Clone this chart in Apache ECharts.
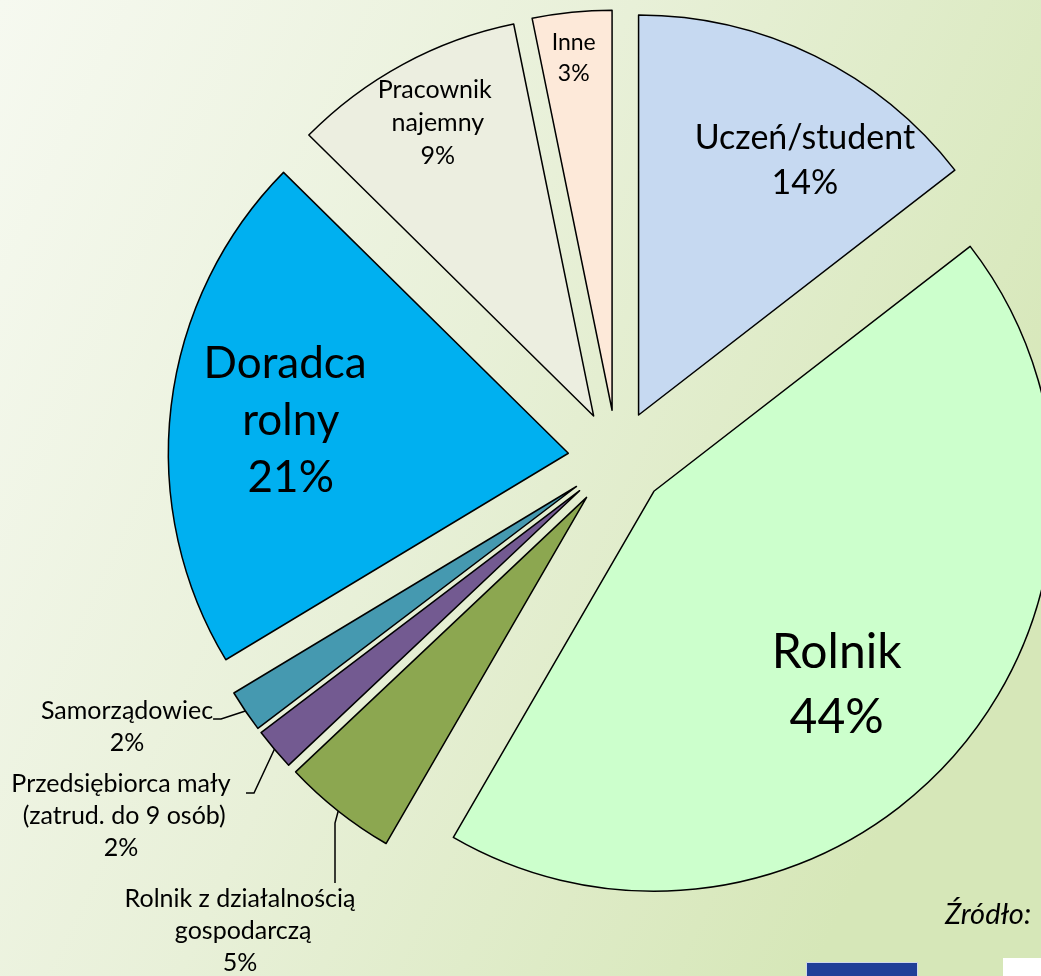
<!DOCTYPE html>
<html>
<head>
<meta charset="utf-8">
<script src="https://cdn.jsdelivr.net/npm/echarts@6/dist/echarts.min.js"></script>
<style>
html, body { margin: 0; padding: 0; overflow: hidden; }
#chart { width: 1041px; height: 976px; }
</style>
</head>
<body>
<div id="chart"></div>
<script>
// shares (labels show them rounded)
const categories = ['Uczeń/student', 'Rolnik', 'Rolnik z działalnością gospodarczą', 'Przedsiębiorca mały (zatrud. do 9 osób)', 'Samorządowiec', 'Doradca rolny', 'Pracownik najemny', 'Inne']
const shares = [14.5, 43.8, 4.6, 1.7, 1.7, 21.0, 9.4, 3.2]
const sourceText = 'Źródło:'

const sliceColors = ['#C6D9F1', '#CCFFCC', '#8CA750', '#735A91', '#4599B0', '#00B0F0', '#ECEEE0', '#FDE9D9']

// pie geometry
const pieCenter = [617, 459]
const pieRadius = 400
const explode = 49

// per slice label look: size, line height, wrap width, nudge from the inside spot,
// or top-centre spot outside (padding moves the leader anchor off the text centre)
const labelLook = [
	{ size: 34, lh: 45, nudge: [77, -72] },
	{ size: 48, lh: 65, nudge: [30, 60] },
	{ size: 25, lh: 32, width: 280, at: [335, 883], pad: [0, 190, 0, 0], len2: 60 },
	{ size: 25, lh: 32, width: 250, at: [121, 722], pad: [46, 0, 0, 0], len2: 8 },
	{ size: 25, lh: 32, at: [127, 679], pad: [16, 0, 0, 0], len2: 8 },
	{ size: 44, lh: 57, width: 200, nudge: [-76, -9] },
	{ size: 25, lh: 33, width: 140, nudge: [-59, -115] },
	{ size: 23, lh: 31, nudge: [-18, -150] },
]

const chart = echarts.init(document.getElementById('chart'), null, { renderer: 'canvas' })

const total = shares.reduce((a, b) => a + b, 0)

// one pie per slice so each can be pushed out along its own middle angle
let before = 0
const series = categories.map((name, k) => {
	const mid = ((before + shares[k] / 2) / total) * Math.PI * 2
	before += shares[k]
	const look = labelLook[k]
	const outside = !!look.at
	return {
		type: 'pie',
		silent: true,
		center: [pieCenter[0] + explode * Math.sin(mid), pieCenter[1] - explode * Math.cos(mid)],
		radius: pieRadius,
		startAngle: 90,
		clockwise: true,
		avoidLabelOverlap: false,
		percentPrecision: 0,
		emphasis: { disabled: true },
		label: {
			color: '#000',
			fontFamily: 'Lato',
			align: 'center',
			formatter: (p) => p.name + '\n' + p.percent + '%',
		},
		labelLine: {
			lineStyle: { color: '#000', width: 1.5 },
		},
		labelLayout: (p) => {
			if (p.dataIndex !== k) return {}
			if (outside) {
				return { x: look.at[0], y: look.at[1], align: 'center', verticalAlign: 'top', hideOverlap: false }
			}
			return { dx: look.nudge[0], dy: look.nudge[1] }
		},
		data: categories.map((n, i) => {
			if (i !== k) {
				return {
					name: n,
					value: shares[i],
					itemStyle: { color: 'rgba(0,0,0,0)', borderWidth: 0 },
					label: { show: false },
					labelLine: { show: false },
				}
			}
			return {
				name: n,
				value: shares[i],
				itemStyle: { color: sliceColors[i], borderColor: '#000', borderWidth: 1.5 },
				label: {
					show: true,
					position: outside ? 'outside' : 'inside',
					fontSize: look.size,
					lineHeight: look.lh,
					width: look.width,
					overflow: look.width ? 'break' : 'none',
					padding: look.pad || 0,
				},
				labelLine: {
					show: outside,
					length: 10,
					length2: look.len2 || 8,
				},
			}
		}),
	}
})

const option = {
	animation: false,
	backgroundColor: {
		type: 'linear', x: 0, y: 0, x2: 1, y2: 0.5,
		colorStops: [
			{ offset: 0, color: '#F6F9F0' },
			{ offset: 0.5, color: '#E8F0D8' },
			{ offset: 1, color: '#D6E7B8' },
		],
	},
	textStyle: { fontFamily: 'Lato' },
	title: {
		text: sourceText,
		left: 945,
		top: 900,
		padding: 0,
		textStyle: { fontStyle: 'italic', fontWeight: 'normal', fontSize: 29, color: '#000', fontFamily: 'Lato' },
	},
	graphic: [
		{ type: 'rect', left: 806, top: 962, shape: { width: 111, height: 20 }, style: { fill: '#203F98', stroke: '#D0D8EA', lineWidth: 1 } },
		{ type: 'rect', left: 1003, top: 958, shape: { width: 40, height: 20 }, style: { fill: '#FFFFFF' } },
	],
	series: series,
}

chart.setOption(option)
</script>
</body>
</html>
